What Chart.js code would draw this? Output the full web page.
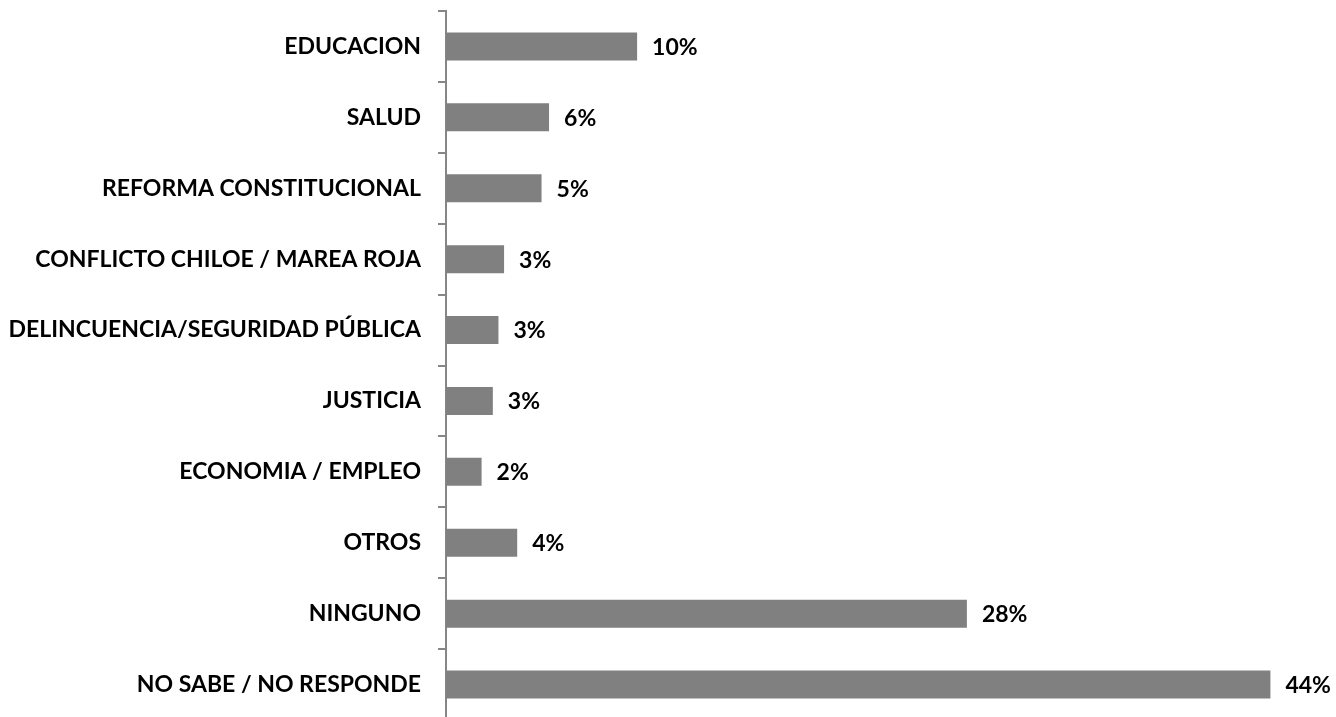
<!DOCTYPE html>
<html>
<head>
<meta charset="utf-8">
<script src="https://cdn.jsdelivr.net/npm/chart.js@4/dist/chart.umd.min.js"></script>
<style>
  html, body { margin: 0; padding: 0; background: #fff; overflow: hidden; }
  #wrap { width: 1336px; height: 720px; }
</style>
</head>
<body>
<div id="wrap"><canvas id="myChart"></canvas></div>
<script>
// categories top to bottom
let categories = [
    'EDUCACION',
    'SALUD',
    'REFORMA CONSTITUCIONAL',
    'CONFLICTO CHILOE / MAREA ROJA',
    'DELINCUENCIA/SEGURIDAD PÚBLICA',
    'JUSTICIA',
    'ECONOMIA / EMPLEO',
    'OTROS',
    'NINGUNO',
    'NO SABE / NO RESPONDE'
];
// percentages (bar lengths)
let values = [10.2, 5.5, 5.1, 3.1, 2.8, 2.5, 1.9, 3.8, 27.8, 44.0];
// text shown next to each bar
let valueLabels = ['10%', '6%', '5%', '3%', '3%', '3%', '2%', '4%', '28%', '44%'];

const labelFont = 'bold 23px Lato';

// draws the value labels right of each bar
const barLabels = {
    id: 'barLabels',
    afterDatasetsDraw(chart) {
        let ctx = chart.ctx;
        let meta = chart.getDatasetMeta(0);
        ctx.save();
        ctx.font = labelFont;
        ctx.fillStyle = '#000';
        ctx.textAlign = 'left';
        ctx.textBaseline = 'middle';
        meta.data.forEach((bar, i) => {
            ctx.fillText(valueLabels[i], bar.x + 15, bar.y + 1);
        });
        ctx.restore();
    }
};

let ctx = document.getElementById('myChart').getContext('2d');
let chart = new Chart(ctx, {
    type: 'bar',
    data: {
        labels: categories,
        datasets: [{
            data: values,
            backgroundColor: '#808080',
            borderWidth: 0,
            categoryPercentage: 1,
            barPercentage: 0.395
        }]
    },
    options: {
        indexAxis: 'y',
        responsive: true,
        maintainAspectRatio: false,
        animation: false,
        layout: { padding: { top: 11, right: 0, bottom: 0, left: 0 } },
        plugins: {
            legend: { display: false },
            tooltip: { enabled: false }
        },
        scales: {
            x: {
                display: false,
                min: 0,
                max: 47.5
            },
            y: {
                offset: true,
                border: { display: true, color: '#868686', width: 2 },
                grid: {
                    drawOnChartArea: false,
                    color: '#868686',
                    lineWidth: 2,
                    tickLength: 8,
                    offset: true
                },
                ticks: {
                    color: '#000',
                    padding: 17,
                    font: { family: 'Lato', weight: 'bold', size: 23 }
                },
                afterFit(scale) {
                    scale.width = 446;
                    scale.paddingTop = 0;
                    scale.paddingBottom = 0;
                }
            }
        }
    },
    plugins: [barLabels]
});
</script>
</body>
</html>
